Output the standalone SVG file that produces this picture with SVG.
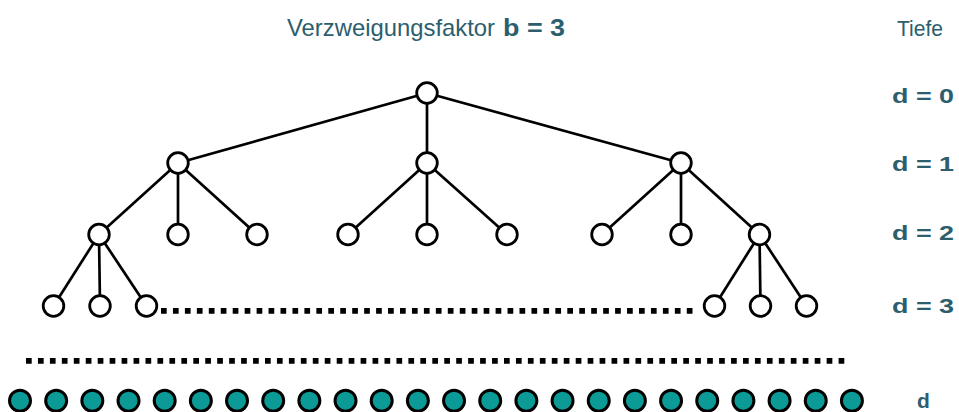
<svg xmlns="http://www.w3.org/2000/svg" width="959" height="412" viewBox="0 0 959 412">
<defs>
<style>
.edge{stroke:#000;stroke-width:2.7;fill:none}
.n{fill:#fff;stroke:#000;stroke-width:2.8}
.leaf{fill:#0b9a96;stroke:#000;stroke-width:3}
.dots{stroke:#000;stroke-width:5.7;stroke-dasharray:5.7 6.25;fill:none}
.t{font-family:"Liberation Sans",Arial,sans-serif;fill:#2c5e6d}
.b{font-weight:bold}
</style>
</defs>
<rect width="959" height="412" fill="#fff"/>
<g id="labels">
<text class="t" x="287" y="36" font-size="24" textLength="208" lengthAdjust="spacingAndGlyphs">Verzweigungsfaktor</text>
<text class="t b" x="503" y="36" font-size="24" textLength="62" lengthAdjust="spacingAndGlyphs">b = 3</text>
<text class="t" x="897" y="36" font-size="22" textLength="46" lengthAdjust="spacingAndGlyphs">Tiefe</text>
<text class="t b" x="892" y="102.5" font-size="21" textLength="62" lengthAdjust="spacingAndGlyphs">d = 0</text>
<text class="t b" x="892" y="171" font-size="21" textLength="62" lengthAdjust="spacingAndGlyphs">d = 1</text>
<text class="t b" x="892" y="240" font-size="21" textLength="62" lengthAdjust="spacingAndGlyphs">d = 2</text>
<text class="t b" x="892" y="312.5" font-size="21" textLength="62" lengthAdjust="spacingAndGlyphs">d = 3</text>
<text class="t b" x="917" y="407.5" font-size="21">d</text>
</g>
<g id="connectors">
<line class="edge" x1="427" y1="93" x2="178" y2="163"/>
<line class="edge" x1="427" y1="93" x2="427" y2="163"/>
<line class="edge" x1="427" y1="93" x2="681" y2="163"/>
<line class="edge" x1="178" y1="163" x2="99" y2="234.5"/>
<line class="edge" x1="178" y1="163" x2="178" y2="234.5"/>
<line class="edge" x1="178" y1="163" x2="257" y2="234.5"/>
<line class="edge" x1="427" y1="163" x2="348" y2="234.5"/>
<line class="edge" x1="427" y1="163" x2="427" y2="234.5"/>
<line class="edge" x1="427" y1="163" x2="507" y2="234.5"/>
<line class="edge" x1="681" y1="163" x2="602" y2="234.5"/>
<line class="edge" x1="681" y1="163" x2="681" y2="234.5"/>
<line class="edge" x1="681" y1="163" x2="759.5" y2="234.5"/>
<line class="edge" x1="99" y1="234.5" x2="53.5" y2="306"/>
<line class="edge" x1="99" y1="234.5" x2="100" y2="306"/>
<line class="edge" x1="99" y1="234.5" x2="146.5" y2="306"/>
<line class="edge" x1="759.5" y1="234.5" x2="714.5" y2="306"/>
<line class="edge" x1="759.5" y1="234.5" x2="760.5" y2="306"/>
<line class="edge" x1="759.5" y1="234.5" x2="806.5" y2="306"/>
<line class="dots" x1="161" y1="310.8" x2="692.5" y2="310.8"/>
<line class="dots" x1="26" y1="360.8" x2="844.3" y2="360.8"/>
</g>
<g id="n0"><circle class="n" cx="427" cy="93" r="10.3"/></g>
<g id="n1a"><circle class="n" cx="178" cy="163" r="10.3"/></g>
<g id="n1b"><circle class="n" cx="427" cy="163" r="10.3"/></g>
<g id="n1c"><circle class="n" cx="681" cy="163" r="10.3"/></g>
<g id="n2a"><circle class="n" cx="99" cy="234.5" r="10.3"/></g>
<g id="n2b"><circle class="n" cx="178" cy="234.5" r="10.3"/></g>
<g id="n2c"><circle class="n" cx="257" cy="234.5" r="10.3"/></g>
<g id="n2d"><circle class="n" cx="348" cy="234.5" r="10.3"/></g>
<g id="n2e"><circle class="n" cx="427" cy="234.5" r="10.3"/></g>
<g id="n2f"><circle class="n" cx="507" cy="234.5" r="10.3"/></g>
<g id="n2g"><circle class="n" cx="602" cy="234.5" r="10.3"/></g>
<g id="n2h"><circle class="n" cx="681" cy="234.5" r="10.3"/></g>
<g id="n2i"><circle class="n" cx="759.5" cy="234.5" r="10.3"/></g>
<g id="n3a"><circle class="n" cx="53.5" cy="306" r="10.3"/></g>
<g id="n3b"><circle class="n" cx="100" cy="306" r="10.3"/></g>
<g id="n3c"><circle class="n" cx="146.5" cy="306" r="10.3"/></g>
<g id="n3d"><circle class="n" cx="714.5" cy="306" r="10.3"/></g>
<g id="n3e"><circle class="n" cx="760.5" cy="306" r="10.3"/></g>
<g id="n3f"><circle class="n" cx="806.5" cy="306" r="10.3"/></g>
<g id="leaves">
<circle class="leaf" cx="20" cy="400.7" r="10.5"/>
<circle class="leaf" cx="56.17" cy="400.7" r="10.5"/>
<circle class="leaf" cx="92.34" cy="400.7" r="10.5"/>
<circle class="leaf" cx="128.51" cy="400.7" r="10.5"/>
<circle class="leaf" cx="164.68" cy="400.7" r="10.5"/>
<circle class="leaf" cx="200.85" cy="400.7" r="10.5"/>
<circle class="leaf" cx="237.02" cy="400.7" r="10.5"/>
<circle class="leaf" cx="273.19" cy="400.7" r="10.5"/>
<circle class="leaf" cx="309.36" cy="400.7" r="10.5"/>
<circle class="leaf" cx="345.53" cy="400.7" r="10.5"/>
<circle class="leaf" cx="381.7" cy="400.7" r="10.5"/>
<circle class="leaf" cx="417.87" cy="400.7" r="10.5"/>
<circle class="leaf" cx="454.04" cy="400.7" r="10.5"/>
<circle class="leaf" cx="490.21" cy="400.7" r="10.5"/>
<circle class="leaf" cx="526.38" cy="400.7" r="10.5"/>
<circle class="leaf" cx="562.55" cy="400.7" r="10.5"/>
<circle class="leaf" cx="598.72" cy="400.7" r="10.5"/>
<circle class="leaf" cx="634.89" cy="400.7" r="10.5"/>
<circle class="leaf" cx="671.06" cy="400.7" r="10.5"/>
<circle class="leaf" cx="707.23" cy="400.7" r="10.5"/>
<circle class="leaf" cx="743.4" cy="400.7" r="10.5"/>
<circle class="leaf" cx="779.57" cy="400.7" r="10.5"/>
<circle class="leaf" cx="815.74" cy="400.7" r="10.5"/>
<circle class="leaf" cx="851.91" cy="400.7" r="10.5"/>
</g>
</svg>
